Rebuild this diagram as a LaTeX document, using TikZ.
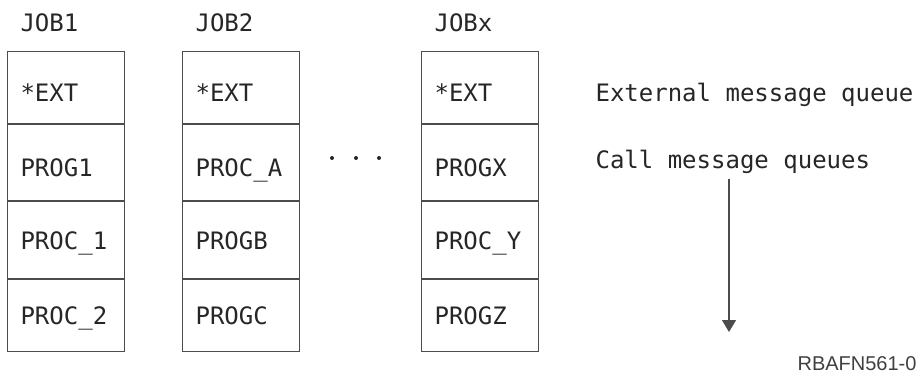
\documentclass[tikz,border=0pt]{standalone}
\usepackage{fontspec}
\newfontfamily\codefont{DejaVu Sans Mono}
\newfontfamily\tagfont{Liberation Sans}
\usetikzlibrary{positioning,calc,arrows.meta}

\begin{document}
\begin{tikzpicture}[x=1pt,y=1pt,line width=1.1pt,>={Triangle[length=12pt,width=14pt]},
  cell/.style={draw=black!70,minimum width=117pt,text width=91pt,inner xsep=13pt,inner ysep=0pt,
    align=left,text height=17.5pt,text depth=0pt,text=black!85,font=\codefont\fontsize{24}{28}\selectfont},
  low/.style={text height=27.5pt},
  jobtext/.style={inner sep=0pt,text height=17.5pt,text depth=0pt,text=black!85,font=\codefont\fontsize{24}{28}\selectfont},
  note/.style={inner sep=0pt,text=black!85,font=\codefont\fontsize{24}{28}\selectfont}]
  \useasboundingbox (0,0) rectangle (917,373);
  % jobs and their message queues
  \foreach \n/\x/\job/\qb/\qc/\qd in {1/7/JOB1/PROG1/PROC\_1/PROC\_2,
                                      2/182/JOB2/PROC\_A/PROGB/PROGC,
                                      3/421/JOBx/PROGX/PROC\_Y/PROGZ}{
    \node[cell,low,minimum height=71.5pt,anchor=north west] (j\n-1) at (\x,322) {*EXT};
    \node[cell,low,minimum height=76.5pt,below=0pt of j\n-1] (j\n-2) {\qb};
    \node[cell,minimum height=77pt,below=0pt of j\n-2] (j\n-3) {\qc};
    \node[cell,minimum height=71.5pt,below=0pt of j\n-3] (j\n-4) {\qd};
    \node[jobtext,above right=19pt and 13pt of j\n-1.north west] (job\n) {\job};
  }
  % more jobs
  \foreach \x in {332,356,379} \fill[black!85] (\x,215) circle (2pt);
  % legend
  \node[note,anchor=base west] (ext) at (595,271.3) {External message queue};
  \node[note,anchor=base west] (calls) at (595,204.7) {Call message queues};
  \coordinate (qend) at (729,41);
  \draw[->,draw=black!70,fill=black!85] ($(calls.south -| qend)+(0,-4.5)$) -- (qend);
  \node[inner sep=0pt,anchor=base west,text=black!75,font=\tagfont\fontsize{20}{24}\selectfont] (tag) at (797,3) {RBAFN561-0};
\end{tikzpicture}
\end{document}
